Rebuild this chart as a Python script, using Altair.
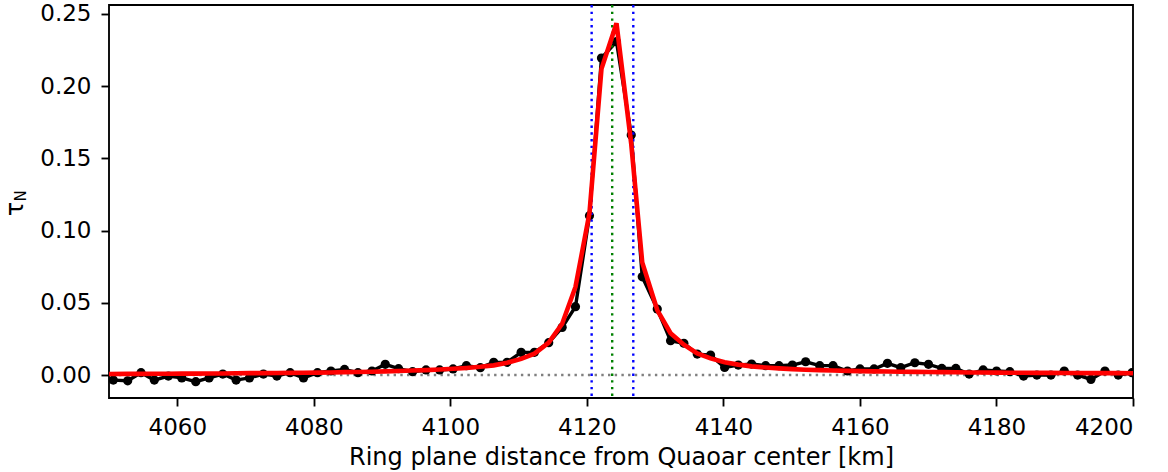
import altair as alt
import pandas as pd

# Normal optical depth profile across the ring (km, tau_N)
data_km = [
    4050.63, 4052.74, 4054.69, 4056.64, 4058.70, 4060.66, 4062.71, 4064.66,
    4066.67, 4068.62, 4070.57, 4072.62, 4074.59, 4076.54, 4078.49, 4080.54,
    4082.51, 4084.50, 4086.47, 4088.52, 4090.47, 4092.42, 4094.47, 4096.44,
    4098.43, 4100.40, 4102.35, 4104.40, 4106.35, 4108.31, 4110.37, 4112.32,
    4114.41, 4116.38, 4118.33, 4120.38, 4122.14, 4124.34, 4126.50, 4128.11,
    4130.31, 4132.26, 4134.21, 4136.17, 4138.12, 4140.18, 4142.18, 4144.13,
    4146.19, 4148.14, 4150.10, 4152.05, 4154.11, 4156.06, 4158.17, 4160.01,
    4162.07, 4164.03, 4165.98, 4168.04, 4170.04, 4171.99, 4174.05, 4176.00,
    4178.05, 4180.01, 4181.96, 4183.97, 4185.92, 4187.98, 4189.93, 4191.89,
    4193.84, 4195.89, 4197.84, 4199.85,
]
data_tau = [
    -0.0035, -0.0040, 0.0016, -0.0035, -0.0007, -0.0020, -0.0046, -0.0020,
    0.0007, -0.0035, -0.0020, 0.0007, -0.0007, 0.0016, -0.0020, 0.0016,
    0.0028, 0.0039, 0.0016, 0.0028, 0.0074, 0.0044, 0.0023, 0.0035,
    0.0035, 0.0042, 0.0065, 0.0051, 0.0088, 0.0088, 0.0157, 0.0157,
    0.0224, 0.0330, 0.0473, 0.1103, 0.2195, 0.2308, 0.1662, 0.0680,
    0.0457, 0.0238, 0.0220, 0.0145, 0.0138, 0.0053, 0.0069, 0.0076,
    0.0065, 0.0065, 0.0069, 0.0092, 0.0065, 0.0065, 0.0028, 0.0042,
    0.0042, 0.0081, 0.0051, 0.0085, 0.0074, 0.0046, 0.0046, 0.0007,
    0.0035, 0.0028, 0.0023, -0.0007, 0.0000, 0.0000, 0.0028, 0.0000,
    -0.0030, 0.0028, 0.0000, 0.0016,
]

# Fitted model profile
model_km = [4050.00] + data_km[1:-1] + [4200.00]
model_tau = [
    0.0007, 0.0008, 0.0008, 0.0009, 0.0009, 0.0010, 0.0010, 0.0011,
    0.0011, 0.0012, 0.0013, 0.0013, 0.0014, 0.0015, 0.0016, 0.0017,
    0.0018, 0.0020, 0.0021, 0.0023, 0.0025, 0.0028, 0.0031, 0.0034,
    0.0038, 0.0043, 0.0049, 0.0057, 0.0067, 0.0085, 0.0112, 0.0148,
    0.0225, 0.0355, 0.0610, 0.1120, 0.2120, 0.2435, 0.1600, 0.0780,
    0.0450, 0.0290, 0.0210, 0.0150, 0.0115, 0.0088, 0.0072, 0.0060,
    0.0052, 0.0046, 0.0041, 0.0037, 0.0034, 0.0031, 0.0029, 0.0027,
    0.0025, 0.0024, 0.0023, 0.0022, 0.0021, 0.0020, 0.0019, 0.0018,
    0.0018, 0.0017, 0.0016, 0.0016, 0.0015, 0.0015, 0.0014, 0.0014,
    0.0013, 0.0013, 0.0013, 0.0012,
]

# Ring centre and edges (km)
center_km = [4123.71]
edge_km = [4120.70, 4126.80]

x_ticks = [4060, 4080, 4100, 4120, 4140, 4160, 4180, 4200]
y_ticks = [0.00, 0.05, 0.10, 0.15, 0.20, 0.25]

FONT = "DejaVu Sans"

obs = pd.DataFrame({"km": data_km, "tau": data_tau})
model = pd.DataFrame({"km": model_km, "tau": model_tau})
centers = pd.DataFrame({"km": center_km})
edges = pd.DataFrame({"km": edge_km})

x_scale = alt.Scale(domain=[4050, 4200], nice=False, zero=False)
y_scale = alt.Scale(domain=[-0.0159, 0.2562], nice=False, zero=False)

x_enc = alt.X(
    "km:Q", scale=x_scale,
    axis=alt.Axis(values=x_ticks, format="d",
                  title="Ring plane distance from Quaoar center [km]"),
)
y_enc = alt.Y(
    "tau:Q", scale=y_scale,
    axis=alt.Axis(values=y_ticks, format=".2f", title=None),
)

dots = [2.4, 4.3]

zero_line = alt.Chart(pd.DataFrame({"tau": [0.0]})).mark_rule(
    color="gray", strokeWidth=2.4, strokeDash=dots
).encode(y=alt.Y("tau:Q", scale=y_scale))

obs_line = alt.Chart(obs).mark_line(
    color="black", strokeWidth=3.4, clip=True
).encode(x=x_enc, y=y_enc)

obs_pts = alt.Chart(obs).mark_circle(
    color="black", size=85, opacity=1, clip=True
).encode(x=x_enc, y=y_enc)

edge_rules = alt.Chart(edges).mark_rule(
    color="blue", strokeWidth=2.4, strokeDash=dots
).encode(x=alt.X("km:Q", scale=x_scale))

center_rule = alt.Chart(centers).mark_rule(
    color="green", strokeWidth=2.4, strokeDash=dots
).encode(x=alt.X("km:Q", scale=x_scale))

model_line = alt.Chart(model).mark_line(
    color="red", strokeWidth=4.6, clip=True
).encode(x=x_enc, y=y_enc)

tau_label = alt.Chart(pd.DataFrame({"t": ["τ"]})).mark_text(
    font=FONT, fontSize=24, angle=270, align="center", baseline="alphabetic",
    color="black",
).encode(x=alt.value(-86), y=alt.value(204), text="t:N")

sub_label = alt.Chart(pd.DataFrame({"t": ["N"]})).mark_text(
    font=FONT, fontSize=15, angle=270, align="center", baseline="alphabetic",
    color="black",
).encode(x=alt.value(-83), y=alt.value(191), text="t:N")

chart = alt.layer(
    zero_line, obs_line, obs_pts, edge_rules, center_rule, model_line,
    tau_label, sub_label,
).properties(
    width=1024,
    height=393,
    autosize=alt.AutoSizeParams(type="none"),
    padding={"left": 109, "top": 5, "right": 35, "bottom": 74},
    background="white",
).configure_view(
    stroke="black", strokeWidth=1.85,
).configure_axis(
    domain=False, grid=False,
    tickColor="black", tickWidth=1.85, tickSize=8,
    labelFont=FONT, labelFontSize=23, labelColor="black", labelPadding=10,
    titleFont=FONT, titleFontSize=24, titleColor="black", titleFontWeight="normal",
).configure_axisX(
    titlePadding=6,
)

chart.save("out.html", embed_options={"renderer": "svg", "actions": False})
